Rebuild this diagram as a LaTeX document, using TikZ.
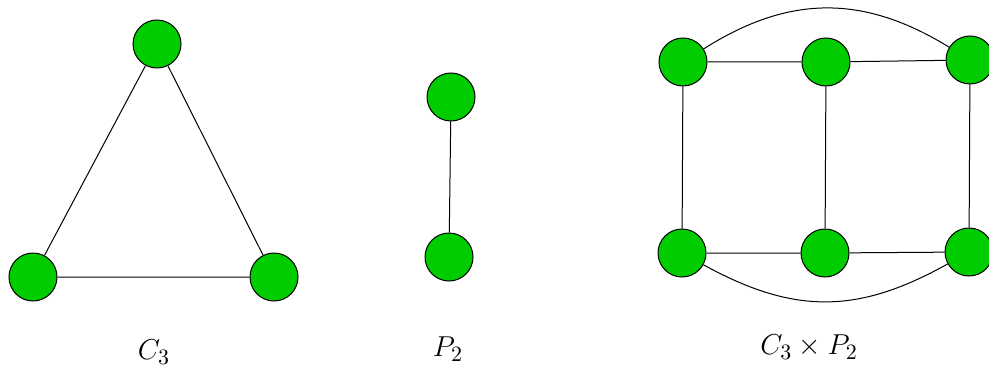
\documentclass[tikz,border=0pt]{standalone}
\usepackage{xcolor}
\definecolor{vgreen}{RGB}{0,204,0}
\begin{document}
\begin{tikzpicture}[x=0.5pt,y=-0.5pt,
  vtx/.style={circle,draw=black,line width=0.5pt,fill=vgreen,minimum size=24pt,inner sep=0pt},
  edge/.style={draw=black,line width=0.5pt},
  lbl/.style={font=\fontsize{15.5}{18}\selectfont}]
\useasboundingbox (0,0) rectangle (989,369);
% C3
\node[vtx] (a1) at (157,44) {};
\node[vtx] (a2) at (33,277) {};
\node[vtx] (a3) at (274,277) {};
\draw[edge] (a1) -- (a2) (a2) -- (a3) (a3) -- (a1);
\node[lbl] (la) at (154,352) {$C_3$};
% P2
\node[vtx] (b1) at (451,97) {};
\node[vtx] (b2) at (449,257) {};
\draw[edge] (b1) -- (b2);
\node[lbl] (lb) at (448,349) {$P_2$};
% C3 x P2
\node[vtx] (c1) at (683,62) {};
\node[vtx] (c2) at (826,62) {};
\node[vtx] (c3) at (970,60) {};
\node[vtx] (d1) at (682,253) {};
\node[vtx] (d2) at (825,253) {};
\node[vtx] (d3) at (969,252) {};
\draw[edge] (c1) -- (c2) (c2) -- (c3) (d1) -- (d2) (d2) -- (d3)
  (c1) -- (d1) (c2) -- (d2) (c3) -- (d3);
\draw[edge] (c1) to[bend left=32,looseness=1.05] (c3);
\draw[edge] (d1) to[bend right=29,looseness=1.08] (d3);
\node[lbl] (lc) at (809,347) {$C_3\times P_2$};
\end{tikzpicture}
\end{document}
